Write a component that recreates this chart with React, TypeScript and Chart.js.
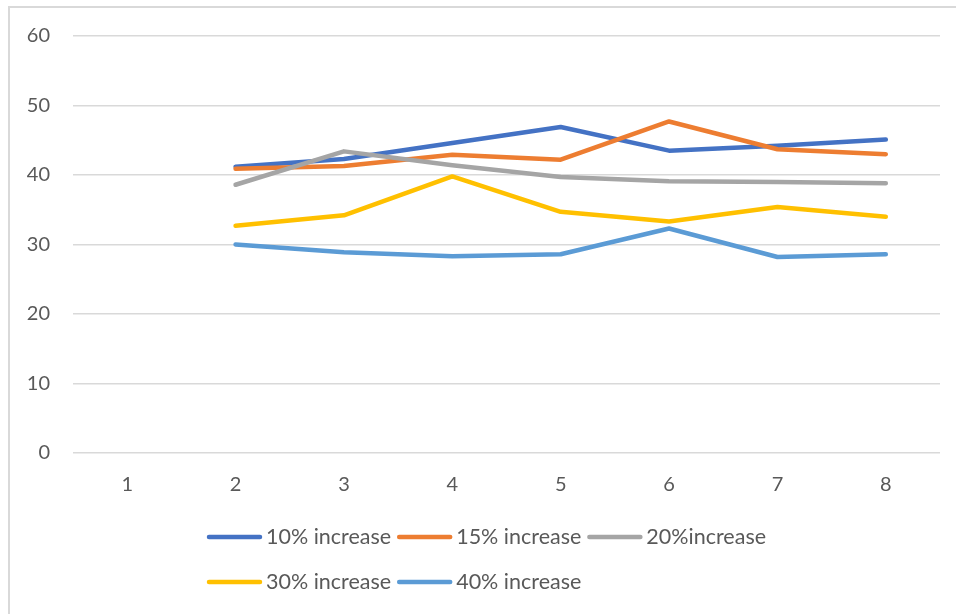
import React, { useEffect, useRef } from "react";
import { Chart, registerables } from "chart.js";

Chart.register(...registerables);

const categories = ["1", "2", "3", "4", "5", "6", "7", "8"];
const seriesLabels = ["10% increase", "15% increase", "20%increase", "30% increase", "40% increase"];
const seriesColors = ["#4472C4", "#ED7D31", "#A5A5A5", "#FFC000", "#5B9BD5"];
const inc10 = [null, 41.2, 42.3, 44.6, 46.9, 43.5, 44.2, 45.1];
const inc15 = [null, 40.9, 41.3, 42.9, 42.2, 47.7, 43.7, 43.0];
const inc20 = [null, 38.6, 43.4, 41.4, 39.7, 39.1, 39.0, 38.8];
const inc30 = [null, 32.7, 34.2, 39.8, 34.7, 33.3, 35.4, 34.0];
const inc40 = [null, 30.0, 28.9, 28.3, 28.6, 32.3, 28.2, 28.6];
const seriesValues = [inc10, inc15, inc20, inc30, inc40];
const yMin = 0;
const yMax = 60;
const yStep = 10;

const FONT = "Lato, 'Open Sans', sans-serif";
const TEXT_COLOR = "#595959";

const legendPlugin = {
  id: "customLegend",
  afterDraw(chart: any) {
    const ctx = chart.ctx;
    ctx.save();
    ctx.font = `21.5px ${FONT}`;
    ctx.textBaseline = "middle";
    ctx.textAlign = "left";
    const startX = 207;
    const maxX = 800;
    const rowYs = [537, 582];
    let x = startX;
    let row = 0;
    chart.data.datasets.forEach((ds: any, i: number) => {
      const tw = ctx.measureText(ds.label).width;
      const w = 55 + 4 + tw;
      if (i > 0 && x + w > maxX) {
        row++;
        x = startX;
      }
      const y = rowYs[row];
      ctx.strokeStyle = ds.borderColor;
      ctx.lineWidth = 4.5;
      ctx.lineCap = "round";
      ctx.beginPath();
      ctx.moveTo(x + 2, y);
      ctx.lineTo(x + 53, y);
      ctx.stroke();
      ctx.fillStyle = TEXT_COLOR;
      ctx.fillText(ds.label, x + 59, y);
      x += w + 6;
    });
    ctx.restore();
  },
};

export default function App() {
  const canvasRef = useRef<HTMLCanvasElement | null>(null);

  useEffect(() => {
    const canvas = canvasRef.current;
    if (!canvas) return;
    const n = seriesValues.length;
    const chart = new Chart(canvas, {
      type: "line",
      data: {
        labels: categories,
        datasets: seriesValues.map((vals, i) => ({
          label: seriesLabels[i],
          data: vals,
          borderColor: seriesColors[i],
          backgroundColor: seriesColors[i],
          borderWidth: 4.5,
          pointRadius: 0,
          pointHoverRadius: 0,
          tension: 0,
          fill: false,
          borderCapStyle: "round",
          borderJoinStyle: "round",
          order: n - i,
        })),
      },
      options: {
        responsive: false,
        animation: false,
        layout: { padding: { left: 0, right: 16, top: 36, bottom: 121 } },
        plugins: {
          legend: { display: false },
          tooltip: { enabled: false },
        },
        scales: {
          x: {
            offset: true,
            grid: { display: false, drawTicks: false },
            border: { display: false },
            ticks: { color: TEXT_COLOR, font: { family: FONT, size: 20 }, padding: 20 },
            afterFit: (s: any) => {
              s.height = 40;
            },
          },
          y: {
            min: yMin,
            max: yMax,
            grid: { color: "#d9d9d9", lineWidth: 1.5, drawTicks: false },
            border: { display: false },
            ticks: { stepSize: yStep, color: TEXT_COLOR, font: { family: FONT, size: 20 }, padding: 23 },
            afterFit: (s: any) => {
              s.width = 73;
            },
          },
        },
      },
      plugins: [legendPlugin],
    });
    return () => chart.destroy();
  }, []);

  return (
    <div style={{ position: "fixed", left: 0, top: 0, width: 956, height: 614, background: "#fff" }}>
      <canvas ref={canvasRef} width={956} height={614} style={{ position: "absolute", left: 0, top: 0 }} />
      <div
        style={{
          position: "absolute",
          left: 8,
          top: 6,
          right: 0,
          bottom: 0,
          borderLeft: "2px solid #d9d9d9",
          borderTop: "2px solid #d9d9d9",
          pointerEvents: "none",
        }}
      />
    </div>
  );
}
